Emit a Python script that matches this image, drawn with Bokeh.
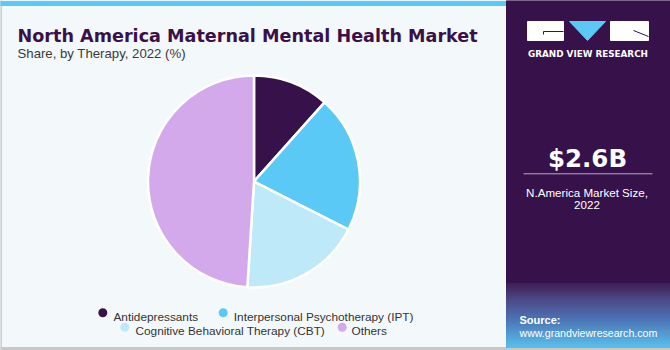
import numpy as np
from bokeh.plotting import figure
from bokeh.models import Range1d
from bokeh.core.properties import value
from bokeh.embed import file_html
from bokeh.resources import INLINE

# ---------------- data ----------------
categories = ["Antidepressants", "Interpersonal Psychotherapy (IPT)",
              "Cognitive Behavioral Therapy (CBT)", "Others"]
shares = [11.6, 20.9, 18.5, 49.0]
colors = ["#37114a", "#5bc9f5", "#bde9f9", "#d4a9ec"]

title = "North America Maternal Mental Health Market"
subtitle = "Share, by Therapy, 2022 (%)"
market_value = "$2.6B"
market_label = ["N.America Market Size,", "2022"]
brand = "GRAND VIEW RESEARCH"
source_lines = ["Source:", "www.grandviewresearch.com"]

W, H = 670, 350
def Y(y):
    return H - y

p = figure(width=W, height=H, x_range=Range1d(0, W), y_range=Range1d(0, H),
           output_backend="svg", toolbar_location=None, min_border=0)
p.axis.visible = False
p.grid.visible = False
p.outline_line_color = None
p.background_fill_color = "#f3f8fb"
p.border_fill_color = "#f3f8fb"

# borders and top bar
p.quad(left=0, right=W, bottom=Y(350), top=Y(347), color="#c8c8c8")
p.quad(left=0, right=1, bottom=Y(350), top=Y(0), color="#cfcfcf")
p.quad(left=0, right=506, bottom=Y(5), top=Y(0.8), color="#5bc8f5")

# right panel
p.quad(left=506, right=W, bottom=Y(347), top=Y(0), color="#37124a")
stops_y = [283, 300, 320, 347]
stops_c = [(0x3d, 0x1f, 0x55), (0x4e, 0x4a, 0x88), (0x4c, 0x76, 0xb6), (0x5a, 0xc0, 0xec)]
n = 40
edges = np.linspace(283, 347, n + 1)
for i in range(n):
    ym = (edges[i] + edges[i + 1]) / 2
    c = [int(np.interp(ym, stops_y, [s[k] for s in stops_c])) for k in range(3)]
    p.quad(left=506, right=W, bottom=Y(edges[i + 1]), top=Y(edges[i]),
           color="#%02x%02x%02x" % tuple(c))

# logo
p.quad(left=527, right=563, bottom=Y(40), top=Y(21), color="white")
p.line([563, 543, 543], [Y(31), Y(31), Y(34)], line_color="#37124a", line_width=1)
p.patch([569, 605, 587], [Y(21), Y(21), Y(40)], color="#5bc8f5")
p.quad(left=610, right=648, bottom=Y(40), top=Y(21), color="white")
p.line([633, 648], [Y(30), Y(36)], line_color="#37124a", line_width=1)
p.text(x=[587.5], y=[Y(53.3)], text=[brand], text_font=value("DejaVu Sans"),
       text_font_style="bold", text_font_size="8.8px", text_color="white",
       text_align="center", text_baseline="alphabetic")

# market size
p.text(x=[587], y=[Y(158)], text=[market_value], text_font=value("DejaVu Sans"),
       text_font_style="bold", text_font_size="24.5px", text_color="white",
       text_align="center", text_baseline="alphabetic")
p.line([523, 652], [Y(173.3), Y(173.3)], line_color="#b9a9c4", line_width=1)
p.text(x=[586.5, 586.5], y=[Y(191.7), Y(204.3)], text=market_label,
       text_font=value("Liberation Sans"), text_font_size="11.6px", text_color="white",
       text_align="center", text_baseline="alphabetic")

# source
p.text(x=[519], y=[Y(319)], text=[source_lines[0]], text_font=value("Liberation Sans"),
       text_font_style="bold", text_font_size="11px", text_color="white",
       text_align="left", text_baseline="alphabetic")
p.text(x=[519], y=[Y(332.3)], text=[source_lines[1]], text_font=value("Liberation Sans"),
       text_font_size="10.6px", text_color="white",
       text_align="left", text_baseline="alphabetic")

# titles
p.text(x=[17], y=[Y(35)], text=[title], text_font=value("DejaVu Sans"),
       text_font_style="bold", text_font_size="17.6px", text_color="#3b1048",
       text_align="left", text_baseline="alphabetic")
p.text(x=[17], y=[Y(53.3)], text=[subtitle], text_font=value("Liberation Sans"),
       text_font_size="13.2px", text_color="#3a3a3a",
       text_align="left", text_baseline="alphabetic")

# pie
total = float(sum(shares))
cum = np.concatenate([[0.0], np.cumsum(shares)])
start = np.pi / 2 - 2 * np.pi * cum[:-1] / total
end = np.pi / 2 - 2 * np.pi * cum[1:] / total
p.wedge(x=253.5, y=Y(181), radius=106, start_angle=start, end_angle=end,
        direction="clock", fill_color=colors, line_color="white", line_width=2.5)

# legend
leg_dot_x = [102.3, 222.7, 124.3, 341.7]
leg_dot_y = [312.3, 312.3, 326.7, 326.7]
leg_txt_x = [113, 233.3, 135, 351]
leg_txt_y = [316, 316, 330.7, 330.7]
p.scatter(x=leg_dot_x, y=[Y(v) for v in leg_dot_y], size=9, marker="circle",
          fill_color=colors, line_color=None)
p.text(x=leg_txt_x, y=[Y(v) for v in leg_txt_y], text=categories,
       text_font=value("Liberation Sans"), text_font_size="11.8px", text_color="#333333",
       text_align="left", text_baseline="alphabetic")

open("out.html", "w").write(file_html(p, INLINE))
